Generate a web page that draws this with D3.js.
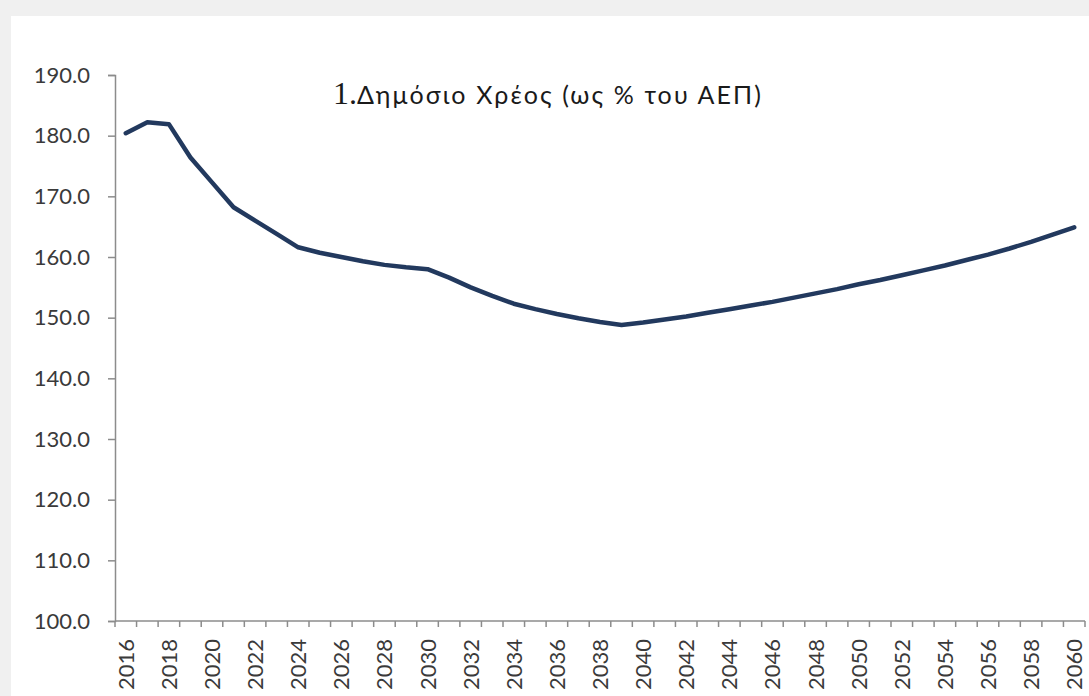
<!DOCTYPE html>
<html>
<head>
<meta charset="utf-8">
<script src="https://cdn.jsdelivr.net/npm/d3@7"></script>
<style>
  html, body { margin: 0; padding: 0; background: #f0f0f0; }
  svg { display: block; }
</style>
</head>
<body>
<svg id="chart" width="1089" height="696"></svg>
<script>
const years = d3.range(2016, 2061);
const debt = [
  180.4, 182.2, 181.9, 176.4, 172.3, 168.2, 166.0, 163.8, 161.6, 160.7,
  160.0, 159.3, 158.7, 158.3, 158.0, 156.6, 155.0, 153.6, 152.3, 151.4,
  150.6, 149.9, 149.3, 148.8, 149.2, 149.7, 150.2, 150.8, 151.4, 152.0,
  152.6, 153.3, 154.0, 154.7, 155.5, 156.2, 157.0, 157.8, 158.6, 159.5,
  160.4, 161.4, 162.5, 163.7, 164.9
];
const yTicks = [100, 110, 120, 130, 140, 150, 160, 170, 180, 190];
const titleNum = '1.';
const titleText = 'Δημόσιο Χρέος (ως % του ΑΕΠ)';

const dimension = { left: 115, right: 1085, top: 75, bottom: 621 };
const axisColor = '#8c8c8c';
const labelColor = '#3a3a3a';
const font = 'Lato, "Open Sans", sans-serif';

const $svg = d3.select('#chart');

$svg.append('rect')
  .attr('x', 11)
  .attr('y', 16)
  .attr('width', 1089 - 11)
  .attr('height', 696 - 16)
  .attr('fill', '#ffffff');

const x = d3.scaleBand()
  .domain(years)
  .range([dimension.left, dimension.right])
  .padding(0);

const y = d3.scaleLinear()
  .domain([100, 190])
  .range([dimension.bottom, dimension.top]);

// y axis
const $yAxis = $svg.append('g')
  .attr('transform', `translate(${dimension.left},0)`)
  .call(
    d3.axisLeft(y)
      .tickValues(yTicks)
      .tickFormat(d3.format('.1f'))
      .tickSize(7)
      .tickPadding(18)
  );
$yAxis.select('.domain').attr('stroke', axisColor).attr('stroke-width', 1.5);
$yAxis.selectAll('.tick line').attr('stroke', axisColor).attr('stroke-width', 1.5);
$yAxis.selectAll('.tick text')
  .attr('font-family', font)
  .attr('font-size', 22)
  .attr('fill', labelColor);

// x axis: ticks on category boundaries, labels every other year
const bw = x.bandwidth();
const boundaries = years.map(d => x(d)).concat([x(years[years.length - 1]) + bw]);

const $xAxis = $svg.append('g').attr('class', 'x-axis');
$xAxis.append('line')
  .attr('x1', dimension.left)
  .attr('x2', dimension.right)
  .attr('y1', dimension.bottom)
  .attr('y2', dimension.bottom)
  .attr('stroke', axisColor)
  .attr('stroke-width', 1.5);

$xAxis.selectAll('line.tick')
  .data(boundaries)
  .join('line')
  .attr('class', 'tick')
  .attr('x1', d => d)
  .attr('x2', d => d)
  .attr('y1', dimension.bottom)
  .attr('y2', dimension.bottom + 6)
  .attr('stroke', axisColor)
  .attr('stroke-width', 1.5);

$xAxis.selectAll('text')
  .data(years.filter(d => d % 2 === 0))
  .join('text')
  .text(d => d)
  .attr('transform', d => `translate(${x(d) + bw / 2 + 8},${dimension.bottom + 18}) rotate(-90)`)
  .attr('text-anchor', 'end')
  .attr('font-family', font)
  .attr('font-size', 22)
  .attr('fill', labelColor);

// series line
const line = d3.line()
  .x((d, i) => x(years[i]) + bw / 2)
  .y(d => y(d));

$svg.append('path')
  .datum(debt)
  .attr('d', line)
  .attr('fill', 'none')
  .attr('stroke', '#22395e')
  .attr('stroke-width', 4.5)
  .attr('stroke-linejoin', 'round')
  .attr('stroke-linecap', 'round');

// title
const $title = $svg.append('text')
  .attr('x', 333)
  .attr('y', 104)
  .attr('fill', '#1a1a1a');
$title.append('tspan')
  .attr('font-family', '"Liberation Serif", serif')
  .attr('font-size', 32)
  .text(titleNum);
$title.append('tspan')
  .attr('font-family', font)
  .attr('font-size', 25)
  .attr('textLength', 404)
  .attr('lengthAdjust', 'spacing')
  .text(titleText);
</script>
</body>
</html>
